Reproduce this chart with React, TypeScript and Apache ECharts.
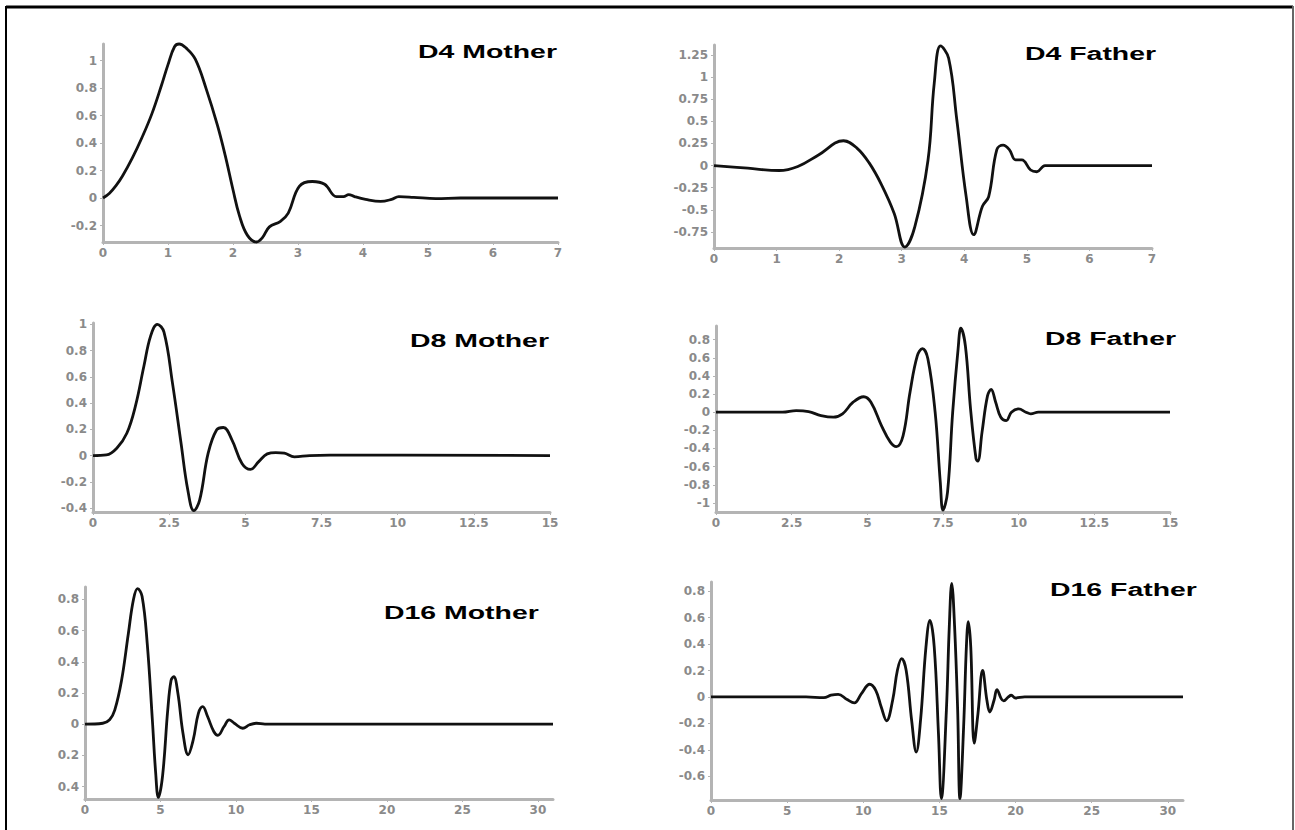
import React, { useEffect, useRef } from "react";
import * as echarts from "echarts";

// ---- data ----
const d4MotherX = [0, 0.1, 0.2, 0.3, 0.45, 0.6, 0.75, 0.9, 1.0, 1.1, 1.17, 1.28, 1.42, 1.59, 1.76, 1.88, 2.0, 2.1, 2.22, 2.36, 2.45, 2.56, 2.73, 2.85, 3.02, 3.22, 3.41, 3.59, 3.7, 3.78, 3.87, 4.04, 4.27, 4.44, 4.55, 4.78, 5.12, 5.5, 7];
const d4MotherY = [0, 0.035, 0.09, 0.16, 0.29, 0.44, 0.61, 0.82, 0.97, 1.1, 1.12, 1.09, 1.01, 0.79, 0.53, 0.31, 0.06, -0.13, -0.27, -0.32, -0.29, -0.21, -0.17, -0.11, 0.085, 0.12, 0.1, 0.01, 0.01, 0.025, 0.01, -0.01, -0.025, -0.01, 0.01, 0.005, -0.005, 0, 0];

const d4FatherX = [0, 0.54, 1.04, 1.34, 1.67, 2.07, 2.28, 2.48, 2.68, 2.88, 3.05, 3.21, 3.42, 3.52, 3.62, 3.75, 3.88, 4.03, 4.15, 4.29, 4.39, 4.52, 4.62, 4.72, 4.82, 4.92, 5.06, 5.16, 5.29, 5.7, 7];
const d4FatherY = [0, -0.03, -0.056, -0.01, 0.12, 0.28, 0.2, 0.03, -0.22, -0.54, -0.92, -0.69, 0.06, 0.93, 1.35, 1.21, 0.52, -0.35, -0.78, -0.46, -0.35, 0.18, 0.23, 0.18, 0.064, 0.064, -0.05, -0.07, 0, 0, 0];

const d8MotherX = [0, 0.44, 0.78, 1.11, 1.39, 1.67, 1.89, 2.11, 2.33, 2.61, 2.89, 3.11, 3.31, 3.5, 3.78, 4.06, 4.28, 4.56, 4.89, 5.17, 5.44, 5.72, 6.0, 6.28, 6.61, 7.11, 7.78, 15];
const d8MotherY = [0, 0.005, 0.056, 0.17, 0.375, 0.68, 0.91, 1.0, 0.94, 0.55, 0.094, -0.26, -0.42, -0.34, 0.018, 0.196, 0.214, 0.12, -0.06, -0.105, -0.046, 0.013, 0.023, 0.018, -0.01, 0, 0.004, 0];

const d8FatherX = [0, 2.2, 2.65, 3.06, 3.47, 3.88, 4.18, 4.53, 4.88, 5.12, 5.47, 5.76, 5.96, 6.18, 6.41, 6.65, 6.82, 7.0, 7.24, 7.41, 7.5, 7.65, 7.82, 8.0, 8.09, 8.24, 8.41, 8.59, 8.65, 8.79, 8.97, 9.09, 9.24, 9.41, 9.59, 9.76, 10.0, 10.24, 10.4, 10.65, 15];
const d8FatherY = [0, 0, 0.018, 0.007, -0.037, -0.055, -0.018, 0.11, 0.17, 0.11, -0.15, -0.33, -0.38, -0.26, 0.22, 0.62, 0.7, 0.59, 0, -0.77, -1.08, -0.88, 0, 0.7, 0.925, 0.73, 0.037, -0.51, -0.54, -0.22, 0.18, 0.25, 0.11, -0.055, -0.092, 0, 0.037, 0, -0.018, 0, 0];

const d16MotherX = [0, 1.18, 1.63, 1.97, 2.42, 2.87, 3.21, 3.48, 3.78, 4.12, 4.46, 4.68, 4.86, 5.14, 5.48, 5.7, 5.88, 6.15, 6.49, 6.83, 7.17, 7.51, 7.8, 8.12, 8.53, 8.8, 9.21, 9.55, 9.89, 10.45, 10.9, 11.36, 11.92, 31];
const d16MotherY = [0, 0.006, 0.028, 0.09, 0.28, 0.58, 0.8, 0.87, 0.82, 0.52, 0.03, -0.31, -0.47, -0.33, 0.09, 0.28, 0.305, 0.2, -0.058, -0.196, -0.1, 0.07, 0.113, 0.049, -0.047, -0.072, -0.015, 0.028, 0.006, -0.026, -0.004, 0.006, 0, 0];

const d16FatherX = [0, 6.24, 7.41, 7.88, 8.35, 8.94, 9.41, 9.88, 10.42, 10.82, 11.18, 11.53, 11.93, 12.24, 12.52, 12.82, 13.18, 13.48, 13.76, 14.12, 14.38, 14.66, 14.94, 15.13, 15.46, 15.65, 15.81, 16.0, 16.2, 16.35, 16.59, 16.78, 16.9, 17.06, 17.29, 17.53, 17.84, 18.12, 18.31, 18.59, 18.78, 19.06, 19.22, 19.53, 19.72, 20.0, 20.6, 31];
const d16FatherY = [0, 0, -0.005, 0.013, 0.02, -0.02, -0.045, 0.025, 0.096, 0.05, -0.076, -0.18, -0.025, 0.2, 0.29, 0.2, -0.18, -0.417, -0.18, 0.38, 0.58, 0.38, -0.28, -0.77, -0.1, 0.53, 0.86, 0.53, -0.1, -0.77, -0.23, 0.4, 0.57, 0.38, -0.35, -0.13, 0.2, -0.025, -0.114, -0.025, 0.056, -0.013, -0.03, 0, 0.013, -0.008, 0, 0];

// tick labels
const xTicks7 = [0, 1, 2, 3, 4, 5, 6, 7];
const xTicks15 = [0, 2.5, 5, 7.5, 10, 12.5, 15];
const xTicks30 = [0, 5, 10, 15, 20, 25, 30];
const yTicksD4M = [-0.2, 0, 0.2, 0.4, 0.6, 0.8, 1];
const yTicksD4F = [-0.75, -0.5, -0.25, 0, 0.25, 0.5, 0.75, 1, 1.25];
const yTicksD8M = [-0.4, -0.2, 0, 0.2, 0.4, 0.6, 0.8, 1];
const yTicksD8F = [-1, -0.8, -0.6, -0.4, -0.2, 0, 0.2, 0.4, 0.6, 0.8];
const yTicksD16M = [-0.4, -0.2, 0, 0.2, 0.4, 0.6, 0.8];
const yTicksD16F = [-0.6, -0.4, -0.2, 0, 0.2, 0.4, 0.6, 0.8];

const titles = ["D4 Mother", "D4 Father", "D8 Mother", "D8 Father", "D16 Mother", "D16 Father"];

type Panel = {
  xs: number[]; ys: number[]; xMax: number; yMin: number; yMax: number;
  xTicks: number[]; yTicks: number[]; absLabels?: boolean;
  grid: { left: number; top: number; width: number; height: number };
  title: { x: number; y: number };
};

const panels: Panel[] = [
  { xs: d4MotherX, ys: d4MotherY, xMax: 7, yMin: -0.32, yMax: 1.12, xTicks: xTicks7, yTicks: yTicksD4M,
    grid: { left: 103, top: 44, width: 455, height: 198 }, title: { x: 418, y: 52 } },
  { xs: d4FatherX, ys: d4FatherY, xMax: 7, yMin: -0.93, yMax: 1.36, xTicks: xTicks7, yTicks: yTicksD4F,
    grid: { left: 714, top: 45, width: 438, height: 203 }, title: { x: 1025, y: 54 } },
  { xs: d8MotherX, ys: d8MotherY, xMax: 15, yMin: -0.43, yMax: 1.01, xTicks: xTicks15, yTicks: yTicksD8M,
    grid: { left: 93, top: 323, width: 457, height: 189 }, title: { x: 410, y: 341 } },
  { xs: d8FatherX, ys: d8FatherY, xMax: 15, yMin: -1.1, yMax: 0.95, xTicks: xTicks15, yTicks: yTicksD8F,
    grid: { left: 716, top: 326, width: 454, height: 186 }, title: { x: 1045, y: 339 } },
  { xs: d16MotherX, ys: d16MotherY, xMax: 31, yMin: -0.48, yMax: 0.88, xTicks: xTicks30, yTicks: yTicksD16M, absLabels: true,
    grid: { left: 85, top: 587, width: 468, height: 212 }, title: { x: 384, y: 613 } },
  { xs: d16FatherX, ys: d16FatherY, xMax: 31, yMin: -0.78, yMax: 0.87, xTicks: xTicks30, yTicks: yTicksD16F,
    grid: { left: 711, top: 582, width: 472, height: 218 }, title: { x: 1050, y: 590 } },
];

const AXIS_COLOR = "#b4b4b4";
const LABEL_COLOR = "#8a8a8a";

function fmt(v: number, abs?: boolean) {
  const n = Math.round((abs ? Math.abs(v) : v) * 100) / 100;
  return String(n);
}

export default function App() {
  const ref = useRef<HTMLDivElement>(null);
  useEffect(() => {
    if (!ref.current) return;
    const chart = echarts.init(ref.current, undefined, { renderer: "svg" });
    const labelStyle = {
      color: LABEL_COLOR,
      fontSize: 12,
      fontFamily: "DejaVu Sans",
      fontWeight: "bold" as const,
    };
    const option: any = {
      animation: false,
      backgroundColor: "#ffffff",
      grid: panels.map((p) => ({ ...p.grid, containLabel: false, outerBoundsMode: "none" })),
      xAxis: panels.map((p, i) => ({
        type: "value",
        gridIndex: i,
        min: 0,
        max: p.xMax,
        axisLine: { onZero: false, lineStyle: { color: AXIS_COLOR, width: 3 } },
        axisTick: { show: true, length: 3, customValues: p.xTicks, lineStyle: { color: AXIS_COLOR, width: 1 } },
        axisLabel: { ...labelStyle, margin: 5, customValues: p.xTicks, formatter: (v: number) => fmt(v) },
        splitLine: { show: false },
      })),
      yAxis: panels.map((p, i) => ({
        type: "value",
        gridIndex: i,
        min: p.yMin,
        max: p.yMax,
        axisLine: { show: true, onZero: false, lineStyle: { color: AXIS_COLOR, width: 3 } },
        axisTick: { show: true, length: 3, customValues: p.yTicks, lineStyle: { color: AXIS_COLOR, width: 1 } },
        axisLabel: { ...labelStyle, margin: 6, customValues: p.yTicks, formatter: (v: number) => fmt(v, p.absLabels) },
        splitLine: { show: false },
      })),
      series: panels.map((p, i) => ({
        type: "line",
        name: titles[i],
        xAxisIndex: i,
        yAxisIndex: i,
        data: p.xs.map((x, k) => [x, p.ys[k]]),
        smooth: 0.4,
        showSymbol: false,
        symbol: "none",
        clip: false,
        lineStyle: { color: "#111111", width: 2.8 },
      })),
      graphic: [
        { type: "line", shape: { x1: 6, y1: 7, x2: 1293, y2: 7 }, style: { stroke: "#000", lineWidth: 3 } },
        { type: "line", shape: { x1: 6, y1: 6, x2: 6, y2: 830 }, style: { stroke: "#000", lineWidth: 2 } },
        { type: "line", shape: { x1: 1293, y1: 6, x2: 1293, y2: 830 }, style: { stroke: "#666", lineWidth: 2 } },
        ...panels.map((p, i) => ({
          type: "text",
          x: p.title.x,
          y: p.title.y,
          scaleX: 1.58,
          style: {
            text: titles[i],
            fill: "#000",
            font: "bold 18px 'Liberation Sans', Arial, sans-serif",
            textAlign: "left",
            textVerticalAlign: "middle",
          },
        })),
      ],
    };
    chart.setOption(option);
    return () => chart.dispose();
  }, []);
  return (
    <div
      ref={ref}
      style={{ position: "absolute", left: 0, top: 0, width: 1295, height: 830, background: "#fff" }}
    />
  );
}
